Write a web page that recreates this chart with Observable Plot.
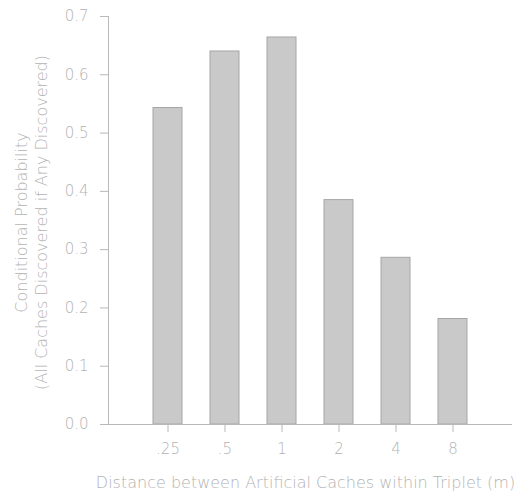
<!DOCTYPE html>
<html>
<head>
<meta charset="utf-8">
<script src="https://cdn.jsdelivr.net/npm/d3@7"></script>
<script src="https://cdn.jsdelivr.net/npm/@observablehq/plot@0.6"></script>
<style>
  html, body { margin: 0; padding: 0; background: #fff; }
  #chart svg { font-family: "DejaVu Sans", sans-serif; font-weight: 200; }
</style>
</head>
<body>
<div id="chart"></div>
<script>
const distances = [".25", ".5", "1", "2", "4", "8"];
const probabilities = [0.543, 0.640, 0.664, 0.385, 0.286, 0.181];
const yTicks = [0, 0.1, 0.2, 0.3, 0.4, 0.5, 0.6, 0.7];
const xLabel = "Distance between Artificial Caches within Triplet (m)";
const yLabel = "Conditional Probability\n(All Caches Discovered if Any Discovered)";

const data = distances.map((d, i) => ({distance: d, p: probabilities[i]}));
const textColor = "#b3b3b3";
const lineColor = "#b8b8b8";

const chart = Plot.plot({
  width: 524,
  height: 493,
  marginLeft: 108,
  marginRight: 12,
  marginTop: 16,
  marginBottom: 69,
  style: {fontSize: "15px", color: textColor, background: "#fff"},
  x: {domain: distances, paddingInner: 0.49, paddingOuter: 0.76, label: null},
  y: {domain: [0, 0.7], label: null},
  marks: [
    Plot.barY(data, {x: "distance", y: "p", fill: "#c9c9c9", stroke: "#a6a6a6", strokeWidth: 1}),
    Plot.ruleY([0], {stroke: lineColor}),
    Plot.frame({anchor: "left", stroke: lineColor}),
    Plot.axisY({ticks: yTicks, tickFormat: d3.format(".1f"), tickSize: 8, tickPadding: 12, stroke: lineColor, fill: textColor, label: null}),
    Plot.axisX({tickSize: 8, tickPadding: 11, stroke: lineColor, fill: textColor, label: null}),
    Plot.text([xLabel], {frameAnchor: "bottom", textAnchor: "middle", dy: 63, dx: -5, fill: textColor, fontSize: 16}),
    Plot.text([yLabel], {frameAnchor: "left", textAnchor: "middle", lineAnchor: "middle", rotate: -90, dx: -78, dy: 2, lineHeight: 1.25, fill: textColor, fontSize: 16})
  ]
});
document.getElementById("chart").appendChild(chart);
</script>
</body>
</html>
